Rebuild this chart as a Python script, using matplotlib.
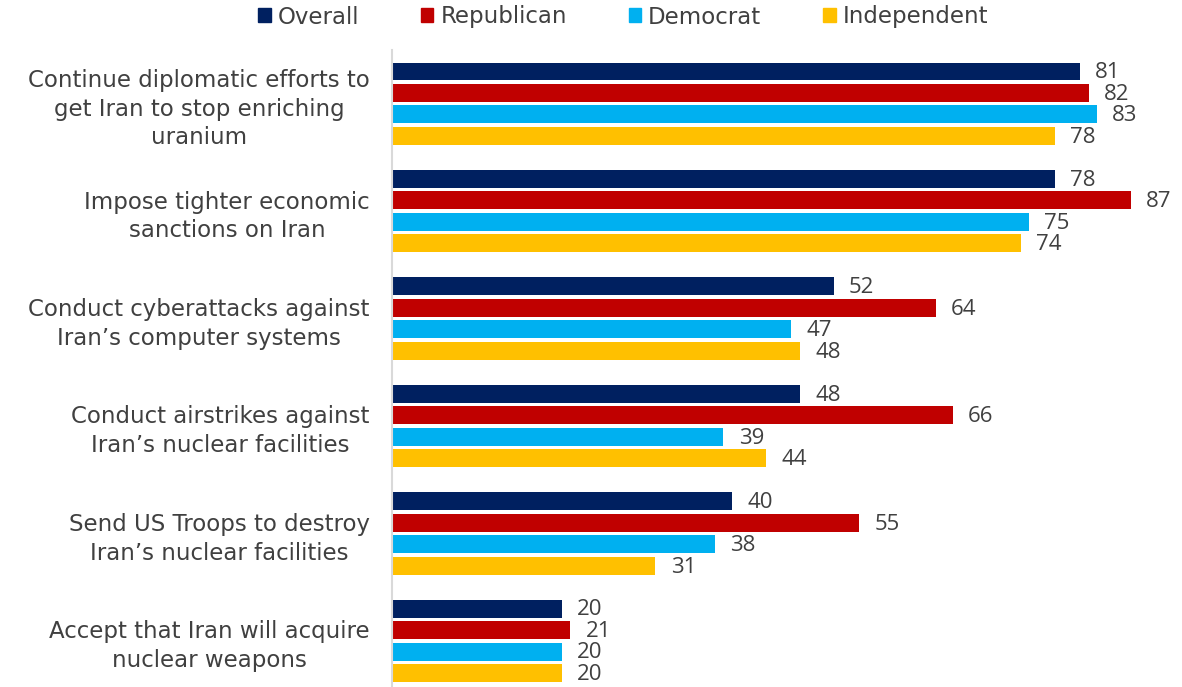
import matplotlib
matplotlib.use("Agg")
import matplotlib.pyplot as plt
import numpy as np
from matplotlib.patches import Patch

categories = [
    "Continue diplomatic efforts to\nget Iran to stop enriching\nuranium",
    "Impose tighter economic\nsanctions on Iran",
    "Conduct cyberattacks against\nIran\u2019s computer systems",
    "Conduct airstrikes against\nIran\u2019s nuclear facilities",
    "Send US Troops to destroy\nIran\u2019s nuclear facilities",
    "Accept that Iran will acquire\nnuclear weapons",
]
series_names = ["Overall", "Republican", "Democrat", "Independent"]
overall = [81, 78, 52, 48, 40, 20]
republican = [82, 87, 64, 66, 55, 21]
democrat = [83, 75, 47, 39, 38, 20]
independent = [78, 74, 48, 44, 31, 20]
colors = ["#002060", "#C00000", "#00B0F0", "#FFC000"]

plt.rcParams['font.family'] = ['Open Sans', 'DejaVu Sans']
text_color = "#404040"

fig = plt.figure(figsize=(11.82, 6.87), dpi=100)
ax = fig.add_axes([392/1182, 0.0, 790/1182, 637/687])

y = np.arange(len(categories))
step = 0.2
height = 0.167
all_series = [overall, republican, democrat, independent]
for i, (vals, c, name) in enumerate(zip(all_series, colors, series_names)):
    pos = y + (i - 1.5) * step
    bars = ax.barh(pos, vals, height=height, color=c, label=name)
    for b, v in zip(bars, vals):
        ax.annotate(str(v), (b.get_width(), b.get_y() + b.get_height() / 2),
                    xytext=(11, -1), textcoords="offset points",
                    ha="left", va="center", fontsize=16, color=text_color)

ax.set_xlim(0, 93)
ax.set_ylim(5.43, -0.5)
ax.set_yticks(y)
ax.set_yticklabels(categories, fontsize=16.5, color=text_color, multialignment="center",
                   linespacing=1.32, family=['DejaVu Sans'])
ax.tick_params(axis="y", length=0, pad=16)
ax.set_xticks([])
for s in ["top", "right", "bottom"]:
    ax.spines[s].set_visible(False)
ax.spines["left"].set_color("#D9D9D9")
ax.spines["left"].set_linewidth(1.5)

handles = [Patch(color=c, label=n) for c, n in zip(colors, series_names)]
fig.legend(handles=handles, loc="center", bbox_to_anchor=(623/1182, 1 - 17/687),
           ncol=4, frameon=False, handlelength=0.55, handleheight=0.55,
           handletextpad=0.3, columnspacing=2.7, labelcolor=text_color,
           prop={'family': ['DejaVu Sans'], 'size': 16.5})

fig.savefig("out.png", dpi=100)
